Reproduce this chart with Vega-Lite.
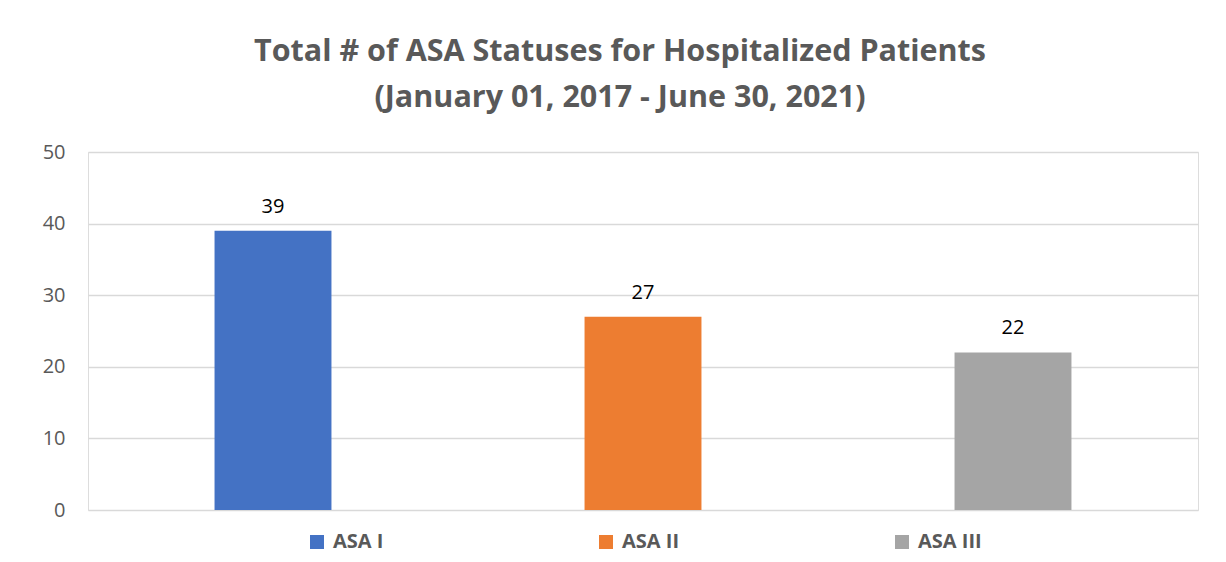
{
  "$schema": "https://vega.github.io/schema/vega-lite/v6.json",
  "autosize": {"type": "none"},
  "width": 1110,
  "height": 358,
  "padding": {"left": 88, "top": 152, "right": 28, "bottom": 52},
  "background": "white",
  "title": {
    "text": ["Total # of ASA Statuses for Hospitalized Patients", "(January 01, 2017 - June 30, 2021)"],
    "font": "Open Sans",
    "fontSize": 30.5,
    "fontWeight": "bold",
    "color": "#595959",
    "anchor": "middle",
    "dx": -23,
    "lineHeight": 46,
    "offset": 29
  },
  "data": {
    "values": [
      {"status": "ASA I", "count": 39},
      {"status": "ASA II", "count": 27},
      {"status": "ASA III", "count": 22}
    ]
  },
  "encoding": {
    "x": {
      "field": "status",
      "type": "nominal",
      "sort": null,
      "scale": {"paddingInner": 0.684, "paddingOuter": 0.342},
      "axis": null
    },
    "y": {
      "field": "count",
      "type": "quantitative",
      "scale": {"domain": [0, 50]},
      "axis": {
        "values": [0, 10, 20, 30, 40, 50],
        "title": null,
        "domain": false,
        "ticks": false,
        "labelPadding": 23,
        "labelFont": "Open Sans",
        "labelFontSize": 20,
        "labelColor": "#595959",
        "gridColor": "#d9d9d9",
        "gridWidth": 1.5
      }
    }
  },
  "layer": [
    {
      "mark": {"type": "bar"},
      "encoding": {
        "color": {
          "field": "status",
          "type": "nominal",
          "sort": null,
          "scale": {"domain": ["ASA I", "ASA II", "ASA III"], "range": ["#4472C4", "#ED7D31", "#A5A5A5"]},
          "legend": {
            "title": null,
            "orient": "none",
            "legendX": 219,
            "legendY": 380,
            "direction": "horizontal",
            "symbolType": "square",
            "symbolSize": 196,
            "symbolStrokeWidth": 0,
            "symbolOffset": 0,
            "labelOffset": 6,
            "columnPadding": 212,
            "labelFont": "Open Sans",
            "labelFontSize": 20,
            "labelFontWeight": "bold",
            "labelColor": "#595959"
          }
        }
      }
    },
    {
      "mark": {"type": "text", "baseline": "alphabetic", "dy": -18, "font": "Open Sans", "fontSize": 20, "color": "#000000"},
      "encoding": {
        "text": {"field": "count", "type": "quantitative"}
      }
    }
  ]
}
